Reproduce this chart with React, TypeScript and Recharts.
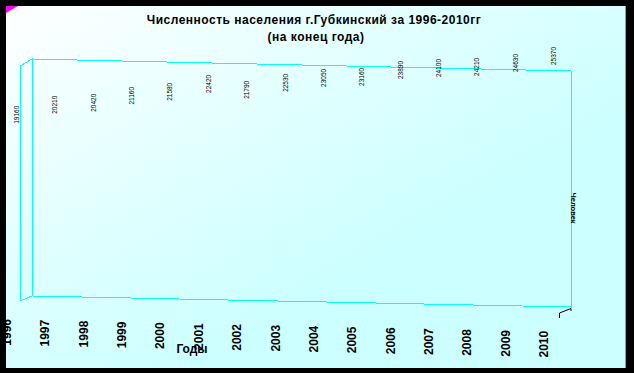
import { LineChart, Line, XAxis, YAxis, LabelList, Customized } from "recharts";

const years = ["1996", "1997", "1998", "1999", "2000", "2001", "2002", "2003", "2004", "2005", "2006", "2007", "2008", "2009", "2010"];
const population = [19160, 20210, 20420, 21160, 21580, 22420, 21790, 22530, 23050, 23160, 23890, 24100, 24210, 24630, 25370];

const title = "Численность населения г.Губкинский за 1996-2010гг";
const subtitle = "(на конец года)";
const xTitle = "Годы";
const yTitle = "Человек";

const data = years.map((year, i) => ({ year, value: population[i] }));

const font = "'Liberation Sans', Arial, sans-serif";
const cyan = "#00ffff";

function YearTick({ x, payload }: any) {
  // labels follow the sloping floor of the box
  const top = 319 + (x - 7) * 0.022;
  return (
    <text
      transform={`translate(${x + 4},${top}) rotate(-90)`}
      textAnchor="end"
      fontSize={12}
      fontWeight="bold"
      fontFamily={font}
      fill="#000"
    >
      {payload.value}
    </text>
  );
}

function ValueLabel({ x, y, value }: any) {
  return (
    <text
      transform={`translate(${x + 12},${y}) rotate(-90)`}
      textAnchor="middle"
      fontSize={6.5}
      fontFamily={font}
      fill="#000"
    >
      {value}
    </text>
  );
}

function Frame() {
  return (
    <g>
      <polygon points="6,6 18,6 6,13" fill="#ff00ff" />
      <g fill="none" stroke={cyan} strokeWidth={1} shapeRendering="crispEdges">
        <polyline points="20,301 20,66 32,59 571,71 571,307 32,296 20,301" />
        <line x1={32} y1={59} x2={32} y2={296} />
      </g>
      <path d="M559.5,318 V313 L571,308.5 V311" fill="none" stroke="#000" strokeWidth={1} />
      <text x={314} y={24} textAnchor="middle" fontSize={12} letterSpacing={0.5} fontWeight="bold" fontFamily={font} fill="#000">
        {title}
      </text>
      <text x={316} y={41} textAnchor="middle" fontSize={12} letterSpacing={0.5} fontWeight="bold" fontFamily={font} fill="#000">
        {subtitle}
      </text>
      <text x={192} y={353} textAnchor="middle" fontSize={12} fontWeight="bold" fontFamily={font} fill="#000">
        {xTitle}
      </text>
      <text
        transform="translate(571,208) rotate(90)"
        textAnchor="middle"
        fontSize={7.5}
        fontWeight="bold"
        fontFamily={font}
        fill="#000"
      >
        {yTitle}
      </text>
    </g>
  );
}

export default function App() {
  return (
    <div style={{ position: "absolute", left: 0, top: 0, width: 634, height: 373, background: "#000" }}>
      <div
        style={{
          position: "absolute",
          left: 6,
          top: 6,
          width: 619,
          height: 362,
          overflow: "hidden",
          borderRight: "1px solid #9a9a9a",
          background: "linear-gradient(150deg, #ffffff 0%, #e6ffff 30%, #ccffff 65%, #ccffff 100%)",
        }}
      >
        <div style={{ position: "absolute", left: -6, top: -6 }}>
          <LineChart width={634} height={373} data={data} margin={{ top: 50, right: 90, bottom: 76, left: 7 }}>
            <Customized component={Frame} />
            <XAxis
              dataKey="year"
              axisLine={false}
              tickLine={false}
              interval={0}
              tick={<YearTick />}
              height={1}
            />
            <YAxis hide domain={[0, 26000]} width={0} />
            <Line dataKey="value" stroke="none" dot={false} activeDot={false} isAnimationActive={false}>
              <LabelList dataKey="value" content={<ValueLabel />} />
            </Line>
          </LineChart>
        </div>
      </div>
    </div>
  );
}
